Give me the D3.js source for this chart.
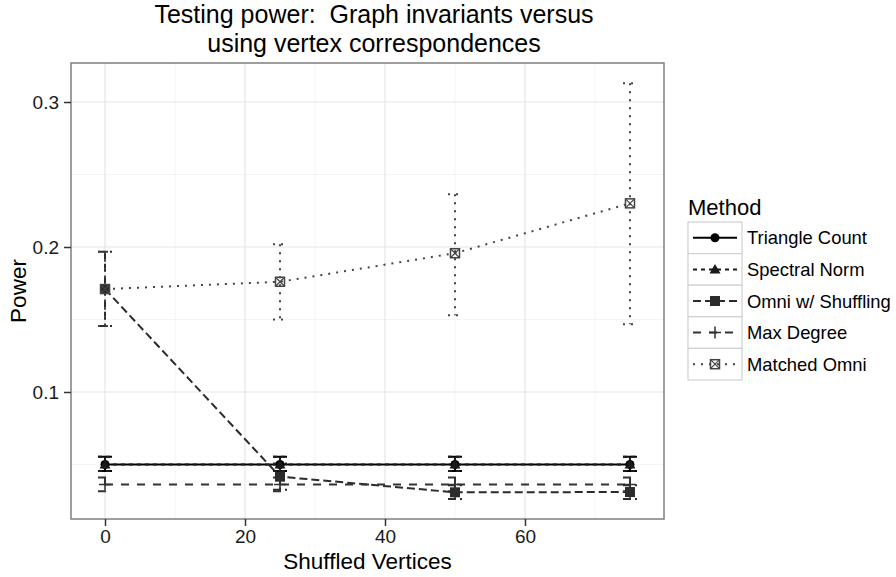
<!DOCTYPE html>
<html lang="en">
<head>
  <meta charset="UTF-8">
  <title>Testing power</title>
  <style>
    body { margin: 0; background: white; }
    text { font-family: "Liberation Sans", Arial, sans-serif; }
  </style>
</head>
<body>
  <script src="https://d3js.org/d3.v7.min.js"></script>
  <script>
    // data
    let shuffled = [0, 25, 50, 75];
    let methods = ["Triangle Count", "Spectral Norm", "Omni w/ Shuffling", "Max Degree", "Matched Omni"];

    let triangleVals = [0.0500, 0.0500, 0.0500, 0.0500];
    let triangleLo = [0.0455, 0.0455, 0.0455, 0.0455];
    let triangleHi = [0.0554, 0.0554, 0.0554, 0.0554];

    let spectralVals = [0.0500, 0.0500, 0.0500, 0.0500];
    let spectralLo = [0.0455, 0.0455, 0.0455, 0.0455];
    let spectralHi = [0.0554, 0.0554, 0.0554, 0.0554];

    let omniVals = [0.171, 0.0416, 0.0308, 0.0310];
    let omniLo = [0.1455, 0.0326, 0.0262, 0.0262];
    let omniHi = [0.1968, 0.0506, 0.0356, 0.0356];

    let maxDegVals = [0.0362, 0.0362, 0.0362, 0.0362];
    let maxDegLo = [0.0315, 0.0315, 0.0315, 0.0315];
    let maxDegHi = [0.0410, 0.0410, 0.0410, 0.0410];

    let matchedVals = [0.171, 0.176, 0.1957, 0.2301];
    let matchedLo = [0.1455, 0.150, 0.153, 0.1467];
    let matchedHi = [0.1968, 0.2019, 0.2363, 0.3129];

    let xTicks = [0, 20, 40, 60];
    let xMinor = [10, 30, 50, 70];
    let yTicks = [0.1, 0.2, 0.3];
    let yMinor = [0.05, 0.15, 0.25];

    let seriesVals = [triangleVals, spectralVals, omniVals, maxDegVals, matchedVals];
    let seriesLo = [triangleLo, spectralLo, omniLo, maxDegLo, matchedLo];
    let seriesHi = [triangleHi, spectralHi, omniHi, maxDegHi, matchedHi];

    let dashes = ["none", "4,4", "8,4", "8,8", "2,6"];
    let shapes = ["circle", "triangle", "square", "plus", "squarecross"];
    let colors = ["#000000", "#1a1a1a", "#2b2b2b", "#333333", "#444444"];

    let series = methods.map(function(m, i) {
      return {
        name: m, dash: dashes[i], shape: shapes[i], color: colors[i],
        points: shuffled.map(function(s, j) {
          return { x: s, y: seriesVals[i][j], lo: seriesLo[i][j], hi: seriesHi[i][j] };
        })
      };
    });

    let width = 896, height = 577;
    let panel = { left: 71, right: 664, top: 63, bottom: 519 };

    let svg = d3.select("body").append("svg")
      .attr("width", width)
      .attr("height", height);

    let x = d3.scaleLinear().domain([-4.86, 79.86]).range([panel.left, panel.right]);
    let y = d3.scaleLinear().domain([0.0124, 0.3269]).range([panel.bottom, panel.top]);

    // panel background and grid
    svg.append("rect")
      .attr("x", panel.left).attr("y", panel.top)
      .attr("width", panel.right - panel.left).attr("height", panel.bottom - panel.top)
      .attr("fill", "white");

    let grid = svg.append("g");
    grid.selectAll(".xminor").data(xMinor).join("line")
      .attr("x1", d => x(d)).attr("x2", d => x(d))
      .attr("y1", panel.top).attr("y2", panel.bottom)
      .attr("stroke", "#f4f4f4").attr("stroke-width", 1);
    grid.selectAll(".yminor").data(yMinor).join("line")
      .attr("y1", d => y(d)).attr("y2", d => y(d))
      .attr("x1", panel.left).attr("x2", panel.right)
      .attr("stroke", "#f4f4f4").attr("stroke-width", 1);
    grid.selectAll(".xmajor").data(xTicks).join("line")
      .attr("x1", d => x(d)).attr("x2", d => x(d))
      .attr("y1", panel.top).attr("y2", panel.bottom)
      .attr("stroke", "#e6e6e6").attr("stroke-width", 1.2);
    grid.selectAll(".ymajor").data(yTicks).join("line")
      .attr("y1", d => y(d)).attr("y2", d => y(d))
      .attr("x1", panel.left).attr("x2", panel.right)
      .attr("stroke", "#e6e6e6").attr("stroke-width", 1.2);

    // lines
    let line = d3.line().x(d => x(d.x)).y(d => y(d.y));
    let plot = svg.append("g");

    series.forEach(function(s) {
      plot.append("path")
        .attr("d", line(s.points))
        .attr("fill", "none")
        .attr("stroke", s.color)
        .attr("stroke-width", 2)
        .attr("stroke-dasharray", s.dash);
    });

    // error bars, drawn as one path like ggplot does
    let capHalf = 7;
    series.forEach(function(s) {
      s.points.forEach(function(p) {
        let cx = x(p.x), yt = y(p.hi), yb = y(p.lo);
        let path = d3.path();
        path.moveTo(cx - capHalf, yt);
        path.lineTo(cx + capHalf, yt);
        path.moveTo(cx, yt);
        path.lineTo(cx, yb);
        path.moveTo(cx - capHalf, yb);
        path.lineTo(cx + capHalf, yb);
        plot.append("path")
          .attr("d", path.toString())
          .attr("fill", "none")
          .attr("stroke", s.color)
          .attr("stroke-width", 2)
          .attr("stroke-dasharray", s.dash);
      });
    });

    function drawShape(g, shape, cx, cy, color) {
      if (shape == "circle") {
        g.append("circle").attr("cx", cx).attr("cy", cy).attr("r", 4.5).attr("fill", color);
      } else if (shape == "triangle") {
        g.append("path")
          .attr("d", "M" + cx + "," + (cy - 5.5) + "L" + (cx + 5.5) + "," + (cy + 4) + "L" + (cx - 5.5) + "," + (cy + 4) + "Z")
          .attr("fill", color);
      } else if (shape == "square") {
        g.append("rect").attr("x", cx - 5).attr("y", cy - 5).attr("width", 10).attr("height", 10).attr("fill", color);
      } else if (shape == "plus") {
        g.append("path")
          .attr("d", "M" + (cx - 6) + "," + cy + "H" + (cx + 6) + "M" + cx + "," + (cy - 6) + "V" + (cy + 6))
          .attr("stroke", color).attr("stroke-width", 1.5);
      } else {
        g.append("rect").attr("x", cx - 4.5).attr("y", cy - 4.5).attr("width", 9).attr("height", 9)
          .attr("fill", "none").attr("stroke", color).attr("stroke-width", 1.5);
        g.append("path")
          .attr("d", "M" + (cx - 4.5) + "," + (cy - 4.5) + "L" + (cx + 4.5) + "," + (cy + 4.5) +
                     "M" + (cx + 4.5) + "," + (cy - 4.5) + "L" + (cx - 4.5) + "," + (cy + 4.5))
          .attr("stroke", color).attr("stroke-width", 1.2);
      }
    }

    series.forEach(function(s) {
      s.points.forEach(function(p) {
        drawShape(plot, s.shape, x(p.x), y(p.y), s.color);
      });
    });

    // panel border
    svg.append("rect")
      .attr("x", panel.left).attr("y", panel.top)
      .attr("width", panel.right - panel.left).attr("height", panel.bottom - panel.top)
      .attr("fill", "none").attr("stroke", "#7f7f7f").attr("stroke-width", 1.5);

    // axes
    let xAxis = svg.append("g")
      .attr("transform", "translate(0," + panel.bottom + ")")
      .call(d3.axisBottom(x).tickValues(xTicks).tickSize(7).tickPadding(4).tickFormat(d3.format("d")));
    let yAxis = svg.append("g")
      .attr("transform", "translate(" + panel.left + ",0)")
      .call(d3.axisLeft(y).tickValues(yTicks).tickSize(7).tickPadding(5).tickFormat(d3.format(".1f")));

    [xAxis, yAxis].forEach(function(a) {
      a.select(".domain").remove();
      a.selectAll(".tick line").attr("stroke", "#333").attr("stroke-width", 1.5);
      a.selectAll(".tick text")
        .attr("fill", "#1a1a1a")
        .style("font-size", "19px")
        .style("font-family", "'Liberation Sans', Arial, sans-serif");
    });

    svg.append("text")
      .attr("x", (panel.left + panel.right) / 2).attr("y", 569)
      .attr("text-anchor", "middle")
      .style("font-size", "22.5px")
      .text("Shuffled Vertices");

    svg.append("text")
      .attr("transform", "translate(26," + ((panel.top + panel.bottom) / 2) + ") rotate(-90)")
      .attr("text-anchor", "middle")
      .style("font-size", "22.5px")
      .text("Power");

    // title
    let title = svg.append("text")
      .attr("text-anchor", "middle")
      .style("font-size", "25px");
    title.append("tspan").attr("x", 374).attr("y", 23).text("Testing power:\u00a0\u00a0Graph invariants versus");
    title.append("tspan").attr("x", 374).attr("y", 52).text("using vertex correspondences");

    // legend
    let legend = svg.append("g");
    legend.append("text")
      .attr("x", 688).attr("y", 215)
      .style("font-size", "22px")
      .text("Method");

    let keyW = 54, keyH = 31.6, keyTop = 222, keyLeft = 688;
    series.forEach(function(s, i) {
      let top = keyTop + i * keyH;
      let cy = top + keyH / 2;
      legend.append("rect")
        .attr("x", keyLeft).attr("y", top)
        .attr("width", keyW).attr("height", keyH)
        .attr("fill", "white").attr("stroke", "#d0d0d0").attr("stroke-width", 1.2);
      legend.append("line")
        .attr("x1", keyLeft + 5).attr("x2", keyLeft + keyW - 5)
        .attr("y1", cy).attr("y2", cy)
        .attr("stroke", s.color).attr("stroke-width", 2)
        .attr("stroke-dasharray", s.dash);
      drawShape(legend, s.shape, keyLeft + keyW / 2, cy, s.color);
      legend.append("text")
        .attr("x", keyLeft + keyW + 5).attr("y", cy + 6.5)
        .style("font-size", "18.4px")
        .text(s.name);
    });
  </script>
</body>
</html>
